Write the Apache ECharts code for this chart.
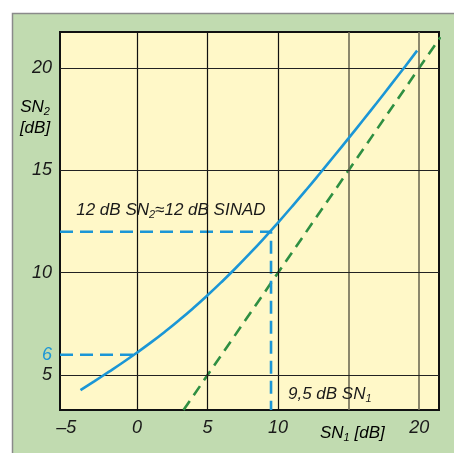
<!DOCTYPE html>
<html><head><meta charset="utf-8">
<script src="https://cdn.jsdelivr.net/npm/echarts@6/dist/echarts.min.js"></script>
<style>html,body{margin:0;padding:0;background:#fff}#c{width:454px;height:453px}</style>
</head><body><div id="c"></div>
<script>
// ---- data ----
const xTickValues = [-5, 0, 5, 10, 20];
const xTickLabels = ['–5', '0', '5', '10', '20'];
const yTickValues = [5, 6, 10, 15, 20];
const yTickLabels = ['5', '6', '10', '15', '20'];
const yHighlight = [6];
const xGridValues = [0, 5, 10, 15, 20];
const yGridValues = [5, 10, 15, 20];
// SN2 vs SN1 curve
const curveSN1 = [-4, -3, -2, -1, 0, 1, 2, 3, 4, 5, 6, 7, 8, 9, 10, 11, 12, 13, 14, 15, 16, 17, 18, 19, 19.85];
const curveSN2 = [4.27, 4.71, 5.16, 5.62, 6.10, 6.60, 7.13, 7.69, 8.28, 8.90, 9.55, 10.23, 10.94, 11.68, 12.45, 13.24, 14.05, 14.88, 15.72, 16.57, 17.43, 18.30, 19.18, 20.07, 20.84];
// identity line SN2 = SN1
const identSN1 = [3.3, 21.5];
const identSN2 = [3.3, 21.5];
// 12 dB SINAD guide
const sinadSN1 = [-5.45, 9.5, 9.5];
const sinadSN2 = [12, 12, 3.3];
// 6 dB guide
const sixSN1 = [-5.45, 0];
const sixSN2 = [6, 6];

const X_MIN = -5.45, X_MAX = 21.4, Y_MIN = 3.3, Y_MAX = 21.75;
const FONT = "'Liberation Sans Narrow','Arial Narrow','Liberation Sans',Arial,sans-serif";
const BLUE = '#1b96d6', GREEN = '#2f8f42', INK = '#1a1a1a';

const zip = (a, b) => a.map((v, i) => [v, b[i]]);
const richSub = {
  n: {fontSize: 17, fontStyle: 'italic', fontFamily: FONT, color: INK},
  s: {fontSize: 11, fontStyle: 'italic', fontFamily: FONT, color: INK, padding: [10, 0, 0, 0]}
};
const tickStyle = {fontSize: 18, fontStyle: 'italic', fontFamily: FONT};

const chart = echarts.init(document.getElementById('c'), null, {renderer: 'canvas'});
chart.setOption({
  backgroundColor: '#ffffff',
  animation: false,
  graphic: [
    {type: 'rect', z: -100, shape: {x: 12.5, y: 13.5, width: 460, height: 460},
     style: {fill: '#c1dbb0', stroke: '#8a8a8a', lineWidth: 1.5}},
    {type: 'text', x: 35, y: 107, style: {text: '{n|SN}{s|2}', rich: richSub, align: 'center', verticalAlign: 'middle'}},
    {type: 'text', x: 35, y: 128, style: {text: '{n|[dB]}', rich: richSub, align: 'center', verticalAlign: 'middle'}},
    {type: 'text', x: 320, y: 433, style: {text: '{n|SN}{s|1}{n| [dB]}', rich: richSub, align: 'left', verticalAlign: 'middle'}}
  ],
  grid: {left: 60, top: 32, right: 15, bottom: 43, show: true,
         backgroundColor: '#fff8c8', borderColor: '#111', borderWidth: 2},
  xAxis: {
    type: 'value', min: X_MIN, max: X_MAX,
    axisLine: {show: false}, axisTick: {show: false}, splitLine: {show: false},
    axisLabel: Object.assign({customValues: xTickValues, margin: 9, color: INK,
      formatter: v => xTickLabels[xTickValues.indexOf(v)]}, tickStyle)
  },
  yAxis: {
    type: 'value', min: Y_MIN, max: Y_MAX,
    axisLine: {show: false}, axisTick: {show: false}, splitLine: {show: false},
    axisLabel: Object.assign({customValues: yTickValues, margin: 8, color: INK,
      rich: {hl: Object.assign({color: BLUE}, tickStyle), k: Object.assign({color: INK}, tickStyle)},
      formatter: v => {
        const t = yTickLabels[yTickValues.indexOf(v)];
        return yHighlight.indexOf(v) >= 0 ? '{hl|' + t + '}' : '{k|' + t + '}';
      }}, tickStyle)
  },
  series: [
    {type: 'line', name: 'grid', data: [], silent: true,
     markLine: {silent: true, symbol: 'none', label: {show: false},
       data: xGridValues.map(v => ({xAxis: v, lineStyle: {color: v >= 15 ? '#6f6b55' : '#111', width: v >= 15 ? 1.6 : 1.2, type: 'solid'}}))
         .concat(yGridValues.map(v => ({yAxis: v, lineStyle: {color: '#222', width: 1.2, type: 'solid'}})))}},
    {type: 'line', name: 'SN1=SN2', data: zip(identSN1, identSN2), symbol: 'none', z: 3,
     lineStyle: {color: GREEN, width: 2.6, type: [11, 7]}},
    {type: 'line', name: '12 dB', data: zip(sinadSN1, sinadSN2), symbol: 'none', z: 4,
     lineStyle: {color: BLUE, width: 2.6, type: [13, 7]},
     markPoint: {symbol: 'circle', symbolSize: 0.01, silent: true,
       data: [
         {coord: [-4.3, 13.06], label: {show: true, position: 'right', distance: 0,
           formatter: '{n|12 dB SN}{s|2}{n|≈12 dB SINAD}', rich: richSub}},
         {coord: [10.7, 4.07], label: {show: true, position: 'right', distance: 0,
           formatter: '{n|9,5 dB SN}{s|1}', rich: richSub}}
       ]}},
    {type: 'line', name: '6 dB', data: zip(sixSN1, sixSN2), symbol: 'none', z: 4,
     lineStyle: {color: BLUE, width: 2.6, type: [13, 7]}},
    {type: 'line', name: 'SN2', data: zip(curveSN1, curveSN2), symbol: 'none', smooth: true, z: 5,
     lineStyle: {color: BLUE, width: 2.6}}
  ]
});
</script></body></html>
